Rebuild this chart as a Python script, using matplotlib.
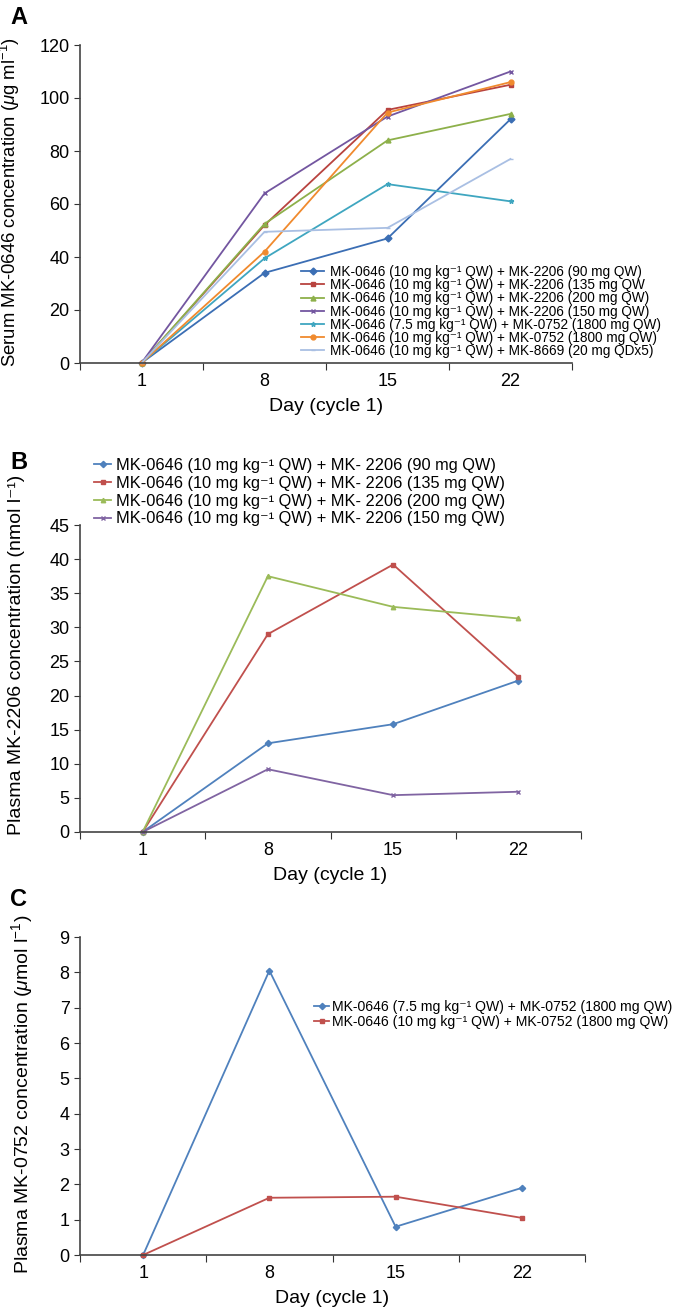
import matplotlib
matplotlib.use('Agg')
import matplotlib.pyplot as plt
import numpy as np

plt.rcParams['font.family'] = ['Liberation Sans', 'DejaVu Sans']
plt.rcParams['mathtext.fontset'] = 'custom'
plt.rcParams['mathtext.rm'] = 'Liberation Sans'
plt.rcParams['mathtext.it'] = 'Liberation Sans:italic'

days = ['1', '8', '15', '22']

# Panel A - serum MK-0646 (ug/ml)
a_labels = [
    'MK-0646 (10 mg kg⁻¹ QW) + MK-2206 (90 mg QW)',
    'MK-0646 (10 mg kg⁻¹ QW) + MK-2206 (135 mg QW',
    'MK-0646 (10 mg kg⁻¹ QW) + MK-2206 (200 mg QW)',
    'MK-0646 (10 mg kg⁻¹ QW) + MK-2206 (150 mg QW)',
    'MK-0646 (7.5 mg kg⁻¹ QW) + MK-0752 (1800 mg QW)',
    'MK-0646 (10 mg kg⁻¹ QW) + MK-0752 (1800 mg QW)',
    'MK-0646 (10 mg kg⁻¹ QW) + MK-8669 (20 mg QDx5)',
]
a_2206_90 = [0, 34, 47, 92]
a_2206_135 = [0, 52, 95.5, 105]
a_2206_200 = [0, 52.5, 84, 94]
a_2206_150 = [0, 64, 93, 110]
a_0752_75 = [0, 39.5, 67.5, 61]
a_0752_10 = [0, 42, 94.5, 106]
a_8669 = [0, 49.5, 51, 77]

# Panel B - plasma MK-2206 (nmol/l)
b_labels = [
    'MK-0646 (10 mg kg⁻¹ QW) + MK- 2206 (90 mg QW)',
    'MK-0646 (10 mg kg⁻¹ QW) + MK- 2206 (135 mg QW)',
    'MK-0646 (10 mg kg⁻¹ QW) + MK- 2206 (200 mg QW)',
    'MK-0646 (10 mg kg⁻¹ QW) + MK- 2206 (150 mg QW)',
]
b_90 = [0, 13, 15.8, 22.2]
b_135 = [0, 29, 39.2, 22.7]
b_200 = [0, 37.5, 33, 31.3]
b_150 = [0, 9.2, 5.4, 5.9]

# Panel C - plasma MK-0752 (umol/l)
c_labels = [
    'MK-0646 (7.5 mg kg⁻¹ QW) + MK-0752 (1800 mg QW)',
    'MK-0646 (10 mg kg⁻¹ QW) + MK-0752 (1800 mg QW)',
]
c_75 = [0, 8.05, 0.8, 1.9]
c_10 = [0, 1.62, 1.65, 1.05]

W, H = 673, 1309
fig = plt.figure(figsize=(W/100, H/100), dpi=100)


def px_axes(l, t, r, b):
    return fig.add_axes([l/W, 1 - b/H, (r - l)/W, (b - t)/H])


def style(ax, ymax, ystep, ylabel, label_x, label_y, label_fs=14):
    x = np.arange(len(days))
    ax.set_xlim(-0.5, len(days) - 0.5)
    ax.set_ylim(0, ymax)
    ax.set_yticks(np.arange(0, ymax + ystep/2, ystep))
    ax.set_xticks(np.arange(-0.5, len(days)), labels=[])
    ax.set_xticks(x, labels=days, minor=True)
    ax.tick_params(axis='x', which='major', length=5, direction='out', color='#333333')
    ax.tick_params(axis='x', which='minor', length=0, labelsize=13, pad=7)
    ax.tick_params(axis='y', length=4, direction='out', labelsize=13, color='#333333')
    for s in ['top', 'right']:
        ax.spines[s].set_visible(False)
    for s in ['left', 'bottom']:
        ax.spines[s].set_color('#444444')
        ax.spines[s].set_linewidth(1.2)
    ax.set_xlabel('Day (cycle 1)', fontsize=14, labelpad=6)
    ax.set_ylabel(ylabel, fontsize=label_fs)
    ax.yaxis.set_label_coords(label_x/W, 1 - label_y/H, transform=fig.transFigure)


x = np.arange(len(days))

# A
axA = px_axes(80, 45, 572, 363)
a_series = [a_2206_90, a_2206_135, a_2206_200, a_2206_150, a_0752_75, a_0752_10, a_8669]
a_colors = ['#3B6EB4', '#B8433F', '#8DB04A', '#7356A0', '#3FA6C0', '#F08A2E', '#A9BFE3']
a_markers = ['D', 's', '^', 'x', '*', 'o', '_']
for vals, lab, col, m in zip(a_series, a_labels, a_colors, a_markers):
    axA.plot(x, vals, color=col, marker=m, markersize=3.5, lw=1.3, label=lab, clip_on=False)
style(axA, 120, 20, r'Serum MK-0646 concentration ($\mathit{\mu}$g ml$^{-1}$)', 22, 202, 13.3)
axA.legend(loc='upper left', bbox_to_anchor=(301/W, 1 - 265/H), bbox_transform=fig.transFigure,
           frameon=False, fontsize=9.8, handlelength=1.7, handletextpad=0.45,
           labelspacing=-0.06, borderpad=0, borderaxespad=0)

# B
axB = px_axes(80, 525, 581, 832)
b_series = [b_90, b_135, b_200, b_150]
b_colors = ['#4F81BD', '#C0504D', '#9BBB59', '#8064A2']
b_markers = ['D', 's', '^', 'x']
for vals, lab, col, m in zip(b_series, b_labels, b_colors, b_markers):
    axB.plot(x, vals, color=col, marker=m, markersize=3.2, lw=1.3, label=lab, clip_on=False)
style(axB, 45, 5, 'Plasma MK-2206 concentration (nmol l⁻¹)', 25, 655)
axB.legend(loc='upper left', bbox_to_anchor=(94/W, 1 - 458/H), bbox_transform=fig.transFigure,
           frameon=False, fontsize=11.8, handlelength=1.05, handletextpad=0.3,
           labelspacing=0.17, borderpad=0, borderaxespad=0)

# C
axC = px_axes(80, 937, 585, 1255)
c_series = [c_75, c_10]
c_colors = ['#4F81BD', '#C0504D']
c_markers = ['D', 's']
for vals, lab, col, m in zip(c_series, c_labels, c_colors, c_markers):
    axC.plot(x, vals, color=col, marker=m, markersize=3.2, lw=1.3, label=lab, clip_on=False)
style(axC, 9, 1, r'Plasma MK-0752 concentration ($\mathit{\mu}$mol l$^{-1}$)', 35, 1094)
axC.legend(loc='upper left', bbox_to_anchor=(314/W, 1 - 1000/H), bbox_transform=fig.transFigure,
           frameon=False, fontsize=10.1, handlelength=1.1, handletextpad=0.2,
           labelspacing=0.1, borderpad=0, borderaxespad=0)

for letter, yy in [('A', 18), ('B', 462), ('C', 900)]:
    fig.text(10/W, 1 - yy/H, letter, fontsize=17, fontweight='bold', va='center', ha='left')

fig.savefig('out.png', dpi=100)
